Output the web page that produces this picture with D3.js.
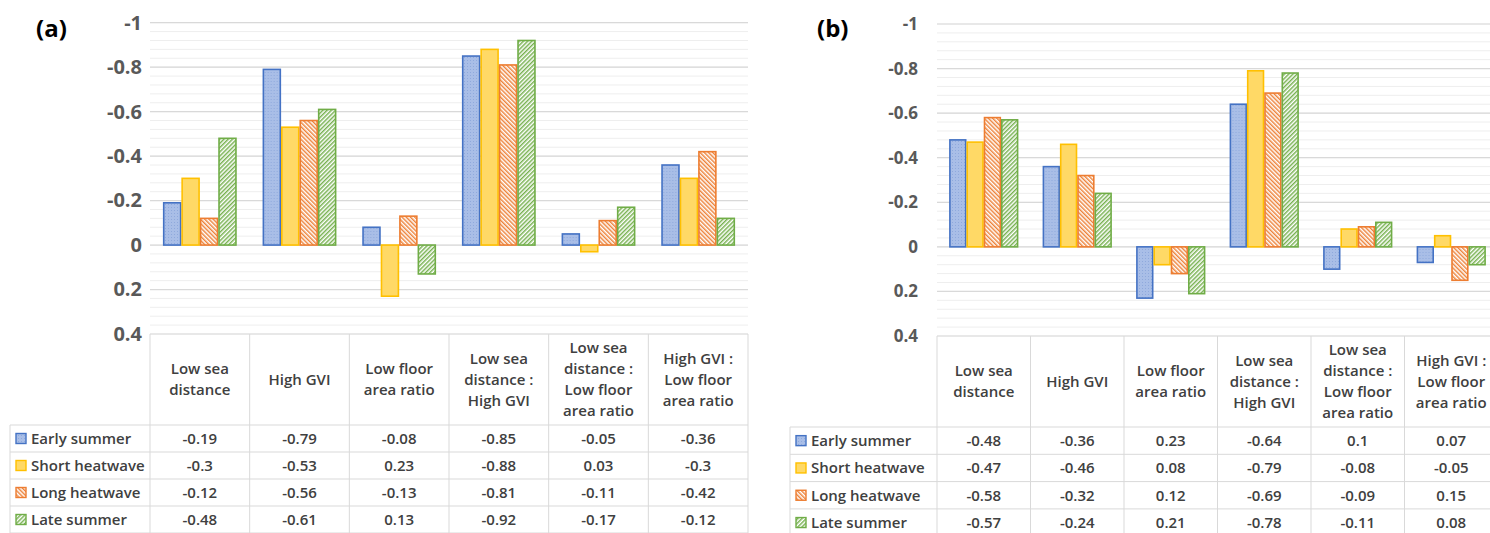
<!DOCTYPE html>
<html>
<head>
<meta charset="utf-8">
<script src="https://cdn.jsdelivr.net/npm/d3@7"></script>
<style>
body { margin: 0; background: #fff; }
svg text { font-family: "Open Sans", "Liberation Sans", sans-serif; }
</style>
</head>
<body>
<div id="svg-container"></div>
<script>
// categories (line breaks as in the table header)
const categories = ["Low sea\ndistance", "High GVI", "Low floor\narea ratio",
    "Low sea\ndistance :\nHigh GVI", "Low sea\ndistance :\nLow floor\narea ratio", "High GVI :\nLow floor\narea ratio"];
const seriesNames = ["Early summer", "Short heatwave", "Long heatwave", "Late summer"];
const yTicks = [-1, -0.8, -0.6, -0.4, -0.2, 0, 0.2, 0.4];

// panel (a)
const aEarlySummer   = [-0.19, -0.79, -0.08, -0.85, -0.05, -0.36];
const aShortHeatwave = [-0.3, -0.53, 0.23, -0.88, 0.03, -0.3];
const aLongHeatwave  = [-0.12, -0.56, -0.13, -0.81, -0.11, -0.42];
const aLateSummer    = [-0.48, -0.61, 0.13, -0.92, -0.17, -0.12];

// panel (b)
const bEarlySummer   = [-0.48, -0.36, 0.23, -0.64, 0.1, 0.07];
const bShortHeatwave = [-0.47, -0.46, 0.08, -0.79, -0.08, -0.05];
const bLongHeatwave  = [-0.58, -0.32, 0.12, -0.69, -0.09, 0.15];
const bLateSummer    = [-0.57, -0.24, 0.21, -0.78, -0.11, 0.08];

const width = 1490;
const height = 533;

const strokes = ["#4472C4", "#FFC000", "#ED7D31", "#70AD47"];
const fills = ["url(#pat-blue)", "#FFD966", "url(#pat-orange)", "url(#pat-green)"];

const svg = d3.select("#svg-container")
    .append("svg")
    .attr("width", width)
    .attr("height", height);

makePatterns();

drawPanel({
    label: "(a)", labelX: 36, labelY: 37, labelSize: 24,
    tickSize: 20, tickPad: 8,
    x0: 150, x1: 748, yTop: 22.7, yBottom: 334,
    legendX: 10, headerBottom: 425, rowH: 27
}, [aEarlySummer, aShortHeatwave, aLongHeatwave, aLateSummer]);

drawPanel({
    label: "(b)", labelX: 817, labelY: 37, labelSize: 24,
    tickSize: 17, tickPad: 19,
    x0: 937, x1: 1498, yTop: 24, yBottom: 336,
    legendX: 790, headerBottom: 427, rowH: 27.3
}, [bEarlySummer, bShortHeatwave, bLongHeatwave, bLateSummer]);


function makePatterns(){
    const defs = svg.append("defs");

    const blue = defs.append("pattern")
        .attr("id", "pat-blue")
        .attr("patternUnits", "userSpaceOnUse")
        .attr("width", 3).attr("height", 3);
    blue.append("rect").attr("width", 3).attr("height", 3).attr("fill", "#A9BEE7");
    blue.append("rect").attr("width", 1).attr("height", 1).attr("fill", "#8FA9DC");

    hatch(defs, "pat-orange", "#ED7D31", -45);
    hatch(defs, "pat-green", "#70AD47", 45);
}

function hatch(defs, id, color, angle){
    const p = defs.append("pattern")
        .attr("id", id)
        .attr("patternUnits", "userSpaceOnUse")
        .attr("width", 3).attr("height", 3)
        .attr("patternTransform", "rotate(" + angle + ")");
    p.append("rect").attr("width", 3).attr("height", 3).attr("fill", "#fff");
    p.append("line")
        .attr("x1", 0.75).attr("y1", 0).attr("x2", 0.75).attr("y2", 3)
        .attr("stroke", color).attr("stroke-width", 1.4);
}

function drawPanel(p, series){
    const g = svg.append("g");

    const y = d3.scaleLinear().domain([-1, 0.4]).range([p.yTop, p.yBottom]);
    const x0 = d3.scaleBand().domain(categories).range([p.x0, p.x1]).padding(0);
    const bw = x0.bandwidth();
    const x1 = d3.scaleBand().domain(seriesNames).range([bw * 0.13, bw * 0.87]).padding(0);

    // minor + major gridlines
    const minor = d3.range(0, 36).map(i => -1 + i * 0.04);
    g.append("g").selectAll("line")
        .data(minor)
        .enter()
        .append("line")
        .attr("x1", p.x0).attr("x2", p.x1)
        .attr("y1", d => y(d)).attr("y2", d => y(d))
        .attr("stroke", "#EEEEEE")
        .attr("stroke-width", 1);

    g.append("g").selectAll("line")
        .data(yTicks.slice(0, -1))
        .enter()
        .append("line")
        .attr("x1", p.x0).attr("x2", p.x1)
        .attr("y1", d => y(d)).attr("y2", d => y(d))
        .attr("stroke", "#D9D9D9")
        .attr("stroke-width", 1.2);

    // y axis labels
    const axis = g.append("g")
        .attr("transform", "translate(" + p.x0 + ",0)")
        .call(d3.axisLeft(y).tickValues(yTicks).tickSize(0).tickPadding(p.tickPad)
            .tickFormat(d => String(+d.toFixed(1))));
    axis.select(".domain").remove();
    axis.selectAll("text")
        .attr("font-family", "'Open Sans', sans-serif")
        .attr("font-size", p.tickSize)
        .attr("font-weight", 700)
        .attr("fill", "#595959");

    // bars
    const groups = g.append("g").selectAll("g")
        .data(categories)
        .enter()
        .append("g")
        .attr("transform", d => "translate(" + x0(d) + ",0)");

    groups.selectAll("rect")
        .data((d, ci) => seriesNames.map((s, si) => ({s: s, si: si, v: series[si][ci]})))
        .enter()
        .append("rect")
        .attr("x", d => x1(d.s) + 0.75)
        .attr("width", x1.bandwidth() - 1.5)
        .attr("y", d => y(Math.min(0, d.v)))
        .attr("height", d => Math.abs(y(d.v) - y(0)))
        .attr("fill", d => fills[d.si])
        .attr("stroke", d => strokes[d.si])
        .attr("stroke-width", 1.6);

    // panel label
    svg.append("text")
        .attr("x", p.labelX).attr("y", p.labelY)
        .attr("font-size", p.labelSize)
        .attr("font-weight", 700)
        .attr("fill", "#000")
        .text(p.label);

    // data table
    const border = "#D9D9D9";
    const t = svg.append("g");
    const tableTop = p.yBottom;
    const bottom = p.headerBottom + p.rowH * 4;

    t.append("line").attr("x1", p.x0).attr("x2", p.x1)
        .attr("y1", tableTop).attr("y2", tableTop).attr("stroke", border);
    for(let r = 0; r <= 4; ++r){
        const yy = p.headerBottom + r * p.rowH;
        t.append("line").attr("x1", p.legendX).attr("x2", p.x1)
            .attr("y1", yy).attr("y2", yy).attr("stroke", border);
    }
    t.append("line").attr("x1", p.legendX).attr("x2", p.legendX)
        .attr("y1", p.headerBottom).attr("y2", bottom).attr("stroke", border);
    t.selectAll(".vline")
        .data(categories.concat(["end"]))
        .enter()
        .append("line")
        .attr("x1", (d, i) => p.x0 + i * bw).attr("x2", (d, i) => p.x0 + i * bw)
        .attr("y1", tableTop).attr("y2", bottom)
        .attr("stroke", border);

    // header labels
    const headerMid = (tableTop + p.headerBottom) / 2;
    const lineH = 21;
    categories.forEach(c => {
        const lines = c.split("\n");
        const txt = t.append("text")
            .attr("text-anchor", "middle")
            .attr("font-size", 15)
            .attr("font-weight", 600)
            .attr("fill", "#404040");
        lines.forEach((l, i) => {
            txt.append("tspan")
                .attr("x", x0(c) + bw / 2)
                .attr("y", headerMid + (i - (lines.length - 1) / 2) * lineH)
                .attr("dy", "0.35em")
                .text(l);
        });
    });

    // rows: legend key + values
    seriesNames.forEach((s, si) => {
        const cy = p.headerBottom + (si + 0.5) * p.rowH;
        t.append("rect")
            .attr("x", p.legendX + 6).attr("y", cy - 5)
            .attr("width", 10).attr("height", 10)
            .attr("fill", fills[si])
            .attr("stroke", strokes[si])
            .attr("stroke-width", 1.4);
        t.append("text")
            .attr("x", p.legendX + 21).attr("y", cy).attr("dy", "0.35em")
            .attr("font-size", 15)
            .attr("font-weight", 600)
            .attr("fill", "#404040")
            .text(s);
        categories.forEach((c, ci) => {
            t.append("text")
                .attr("x", x0(c) + bw / 2).attr("y", cy).attr("dy", "0.35em")
                .attr("text-anchor", "middle")
                .attr("font-size", 15)
                .attr("font-weight", 600)
                .attr("fill", "#404040")
                .text(String(series[si][ci]));
        });
    });
}
</script>
</body>
</html>
